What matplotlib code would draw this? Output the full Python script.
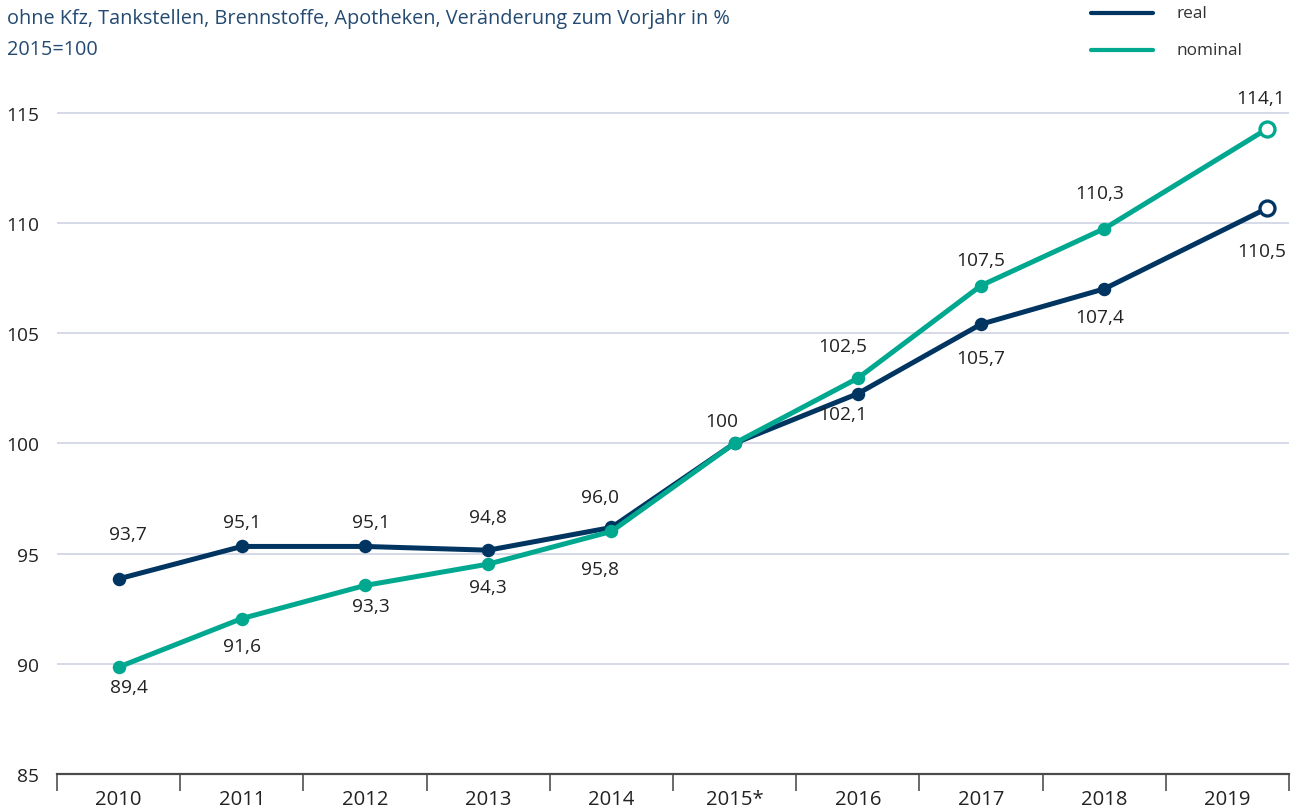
import numpy as np
import matplotlib
matplotlib.use("Agg")
import matplotlib.pyplot as plt
from matplotlib.lines import Line2D

plt.rcParams['font.family'] = ['Open Sans', 'DejaVu Sans']

# ---- data ----
years = ['2010', '2011', '2012', '2013', '2014', '2015*', '2016', '2017', '2018', '2019']
real = [93.85, 95.32, 95.32, 95.15, 96.18, 100.0, 102.25, 105.4, 107.0, 110.65]
nominal = [89.85, 92.05, 93.55, 94.52, 96.0, 100.0, 102.95, 107.15, 109.73, 114.25]
real_labels = ['93,7', '95,1', '95,1', '94,8', '96,0', '100', '102,1', '105,7', '107,4', '110,5']
nominal_labels = ['89,4', '91,6', '93,3', '94,3', '95,8', '', '102,5', '107,5', '110,3', '114,1']
series_names = ['real', 'nominal']
y_ticks = [85, 90, 95, 100, 105, 110, 115]
title_lines = ['ohne Kfz, Tankstellen, Brennstoffe, Apotheken, Veränderung zum Vorjahr in %',
               '2015=100']

# ---- style ----
W, H, DPI = 1301, 812, 100
C_REAL = '#003562'
C_NOM = '#00a890'
C_GRID = '#cdd0e2'
C_AXIS = '#4a4a4a'
C_TEXT = '#222222'
C_TITLE = '#244a72'
FS = 13.8
PX = 72.0 / DPI  # points per pixel

# label offsets in pixels (dx, dy up)
real_off = [(9, 45), (0, 24), (6, 24), (0, 33), (-11, 30), (-13, 22), (-15, -20), (0, -34), (-5, -28), (-5, -43)]
nom_off = [(10, -20), (0, -27), (6, -21), (0, -23), (-11, -38), (0, 0), (-15, 32), (0, 26), (-5, 36), (-6, 31)]
last_shift = 0.32

fig = plt.figure(figsize=(W / DPI, H / DPI), dpi=DPI)
ax_left, ax_right = 57, 1289
y_bottom_px, y_top_px = 775, 69.4
ax = fig.add_axes([ax_left / W, (H - y_bottom_px) / H,
                   (ax_right - ax_left) / W, (y_bottom_px - y_top_px) / H])
ax.set_xlim(-0.5, len(years) - 0.5)
ax.set_ylim(85, 117)

x = np.arange(len(years), dtype=float)
x[-1] += last_shift

line_w = 5.0 * PX
ms = 13.5 * PX
for vals, col, z in [(real, C_REAL, 3), (nominal, C_NOM, 4)]:
    ax.plot(x, vals, color=col, lw=line_w, zorder=z, solid_capstyle='round', solid_joinstyle='round')
    ax.plot(x[:-1], vals[:-1], 'o', color=col, ms=ms, mew=0, zorder=z + 0.1)
    ax.plot(x[-1:], vals[-1:], 'o', mfc='white', mec=col, ms=15 * PX, mew=3.3 * PX, zorder=z + 0.2)

for vals, labs, offs in [(real, real_labels, real_off), (nominal, nominal_labels, nom_off)]:
    for xi, v, lab, (dx, dy) in zip(x, vals, labs, offs):
        if lab:
            ax.annotate(lab, (xi, v), xytext=(dx, dy), textcoords='offset pixels',
                        ha='center', va='center', fontsize=FS, color=C_TEXT, zorder=6)

# grid
for t in y_ticks[1:]:
    ax.axhline(t, color=C_GRID, lw=1.6 * PX, zorder=1)

for s in ['top', 'right', 'left']:
    ax.spines[s].set_visible(False)
ax.spines['bottom'].set_color(C_AXIS)
ax.spines['bottom'].set_linewidth(2.2 * PX)
ax.spines['bottom'].set_zorder(5)

ax.set_yticks(y_ticks)
ax.set_yticklabels([str(t) for t in y_ticks])
ax.tick_params(axis='y', length=0, pad=18 * PX, labelsize=FS, labelcolor=C_TEXT)

ax.set_xticks(np.arange(len(years) + 1) - 0.5)
ax.set_xticklabels([])
ax.tick_params(axis='x', which='major', length=17 * PX, width=1.6 * PX, color=C_AXIS, direction='out')
ax.set_xticks(np.arange(len(years)), minor=True)
ax.set_xticklabels(years, minor=True)
ax.tick_params(axis='x', which='minor', length=0, pad=15 * PX, labelsize=14.6, labelcolor=C_TEXT)

# title
fig.text(7 / W, 1 - 19 / H, title_lines[0], ha='left', va='center', fontsize=14.35, color=C_TITLE)
fig.text(7 / W, 1 - 50 / H, title_lines[1], ha='left', va='center', fontsize=14.35, color=C_TITLE)

# legend
for i, (name, col) in enumerate(zip(series_names, [C_REAL, C_NOM])):
    yy = 1 - (14 + 37 * i) / H
    fig.add_artist(Line2D([1091 / W, 1153 / W], [yy, yy], transform=fig.transFigure,
                          color=col, lw=4.2 * PX, solid_capstyle='round'))
    fig.text(1176 / W, yy, name, ha='left', va='center', fontsize=12.4, color='#333333')

fig.savefig('out.png', dpi=DPI)
